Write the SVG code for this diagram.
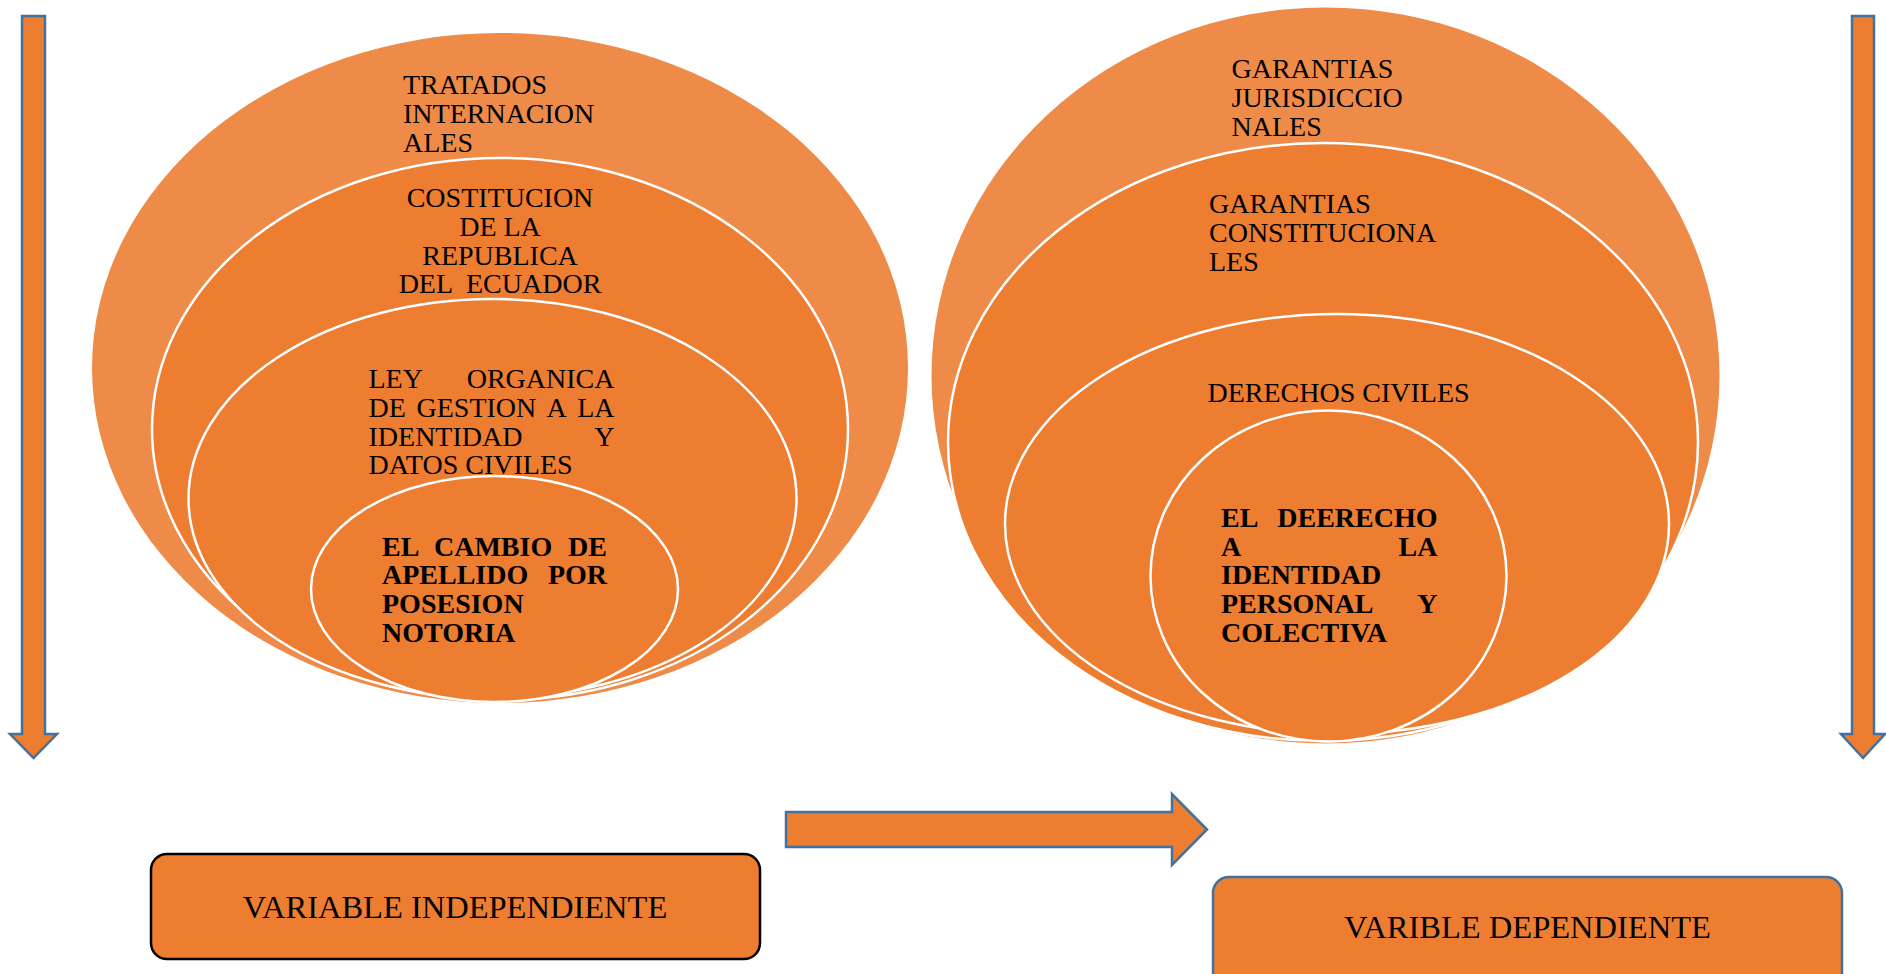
<svg xmlns="http://www.w3.org/2000/svg" width="1886" height="974" viewBox="0 0 1886 974">
<style>
.outer{fill:#EE8B48;stroke:none}
.ring{fill:#ED7D31;stroke:#FFFFFF;stroke-width:2.5}
.arrow{fill:#ED7D31;stroke:#41719C;stroke-width:2.5;stroke-linejoin:miter}
.t{font-family:"Liberation Serif","Times New Roman",serif;font-size:28px;fill:#000}
.b{font-weight:bold}
.lbl{font-family:"Liberation Serif","Times New Roman",serif;font-size:32.5px;fill:#000;text-anchor:middle}
</style>
<rect width="1886" height="974" fill="#FFFFFF"/>
<g id="connectors">
<polygon class="arrow" points="22,16 45,16 45,734 57,734 33.5,758 10,734 22,734"/>
<polygon class="arrow" points="1852,16 1874,16 1874,734 1885,734 1863,758 1841,734 1852,734"/>
<polygon class="arrow" points="786,812 1172,812 1172,794 1207,829.5 1172,865 1172,847 786,847"/>
</g>
<g id="left-nest">
<g id="n-tratados">
<ellipse class="outer" cx="500" cy="368" rx="408" ry="335"/>
<text class="t" x="403" y="94">TRATADOS</text>
<text class="t" x="403" y="123">INTERNACION</text>
<text class="t" x="403" y="151.5">ALES</text>
</g>
<g id="n-constitucion">
<ellipse class="ring" cx="500" cy="429" rx="348" ry="271"/>
<text class="t" x="500" y="206.5" text-anchor="middle">COSTITUCION</text>
<text class="t" x="500" y="235.5" text-anchor="middle">DE LA</text>
<text class="t" x="500" y="265" text-anchor="middle">REPUBLICA</text>
<text class="t" x="500" y="293" text-anchor="middle" xml:space="preserve">DEL  ECUADOR</text>
</g>
<g id="n-ley">
<ellipse class="ring" cx="492.5" cy="498.5" rx="304" ry="199.5"/>
<text class="t" x="368.5" y="388">LEY</text>
<text class="t" x="614.5" y="388" text-anchor="end">ORGANICA</text>
<text class="t" x="368.5" y="416.5">DE</text>
<text class="t" x="416.5" y="416.5">GESTION</text>
<text class="t" x="546.5" y="416.5">A</text>
<text class="t" x="614.5" y="416.5" text-anchor="end">LA</text>
<text class="t" x="368.5" y="445.5">IDENTIDAD</text>
<text class="t" x="614.5" y="445.5" text-anchor="end">Y</text>
<text class="t" x="368.5" y="474">DATOS CIVILES</text>
</g>
<g id="n-cambio">
<ellipse class="ring" cx="494.5" cy="589" rx="183.5" ry="113"/>
<text class="t b" x="382" y="555.5">EL</text>
<text class="t b" x="434" y="555.5">CAMBIO</text>
<text class="t b" x="607" y="555.5" text-anchor="end">DE</text>
<text class="t b" x="382" y="584">APELLIDO</text>
<text class="t b" x="607" y="584" text-anchor="end">POR</text>
<text class="t b" x="382" y="613">POSESION</text>
<text class="t b" x="382" y="641.5">NOTORIA</text>
</g>
</g>
<g id="right-nest">
<g id="n-jurisdiccionales">
<ellipse class="outer" cx="1325.5" cy="375.5" rx="394" ry="368"/>
<text class="t" x="1231.5" y="77.5">GARANTIAS</text>
<text class="t" x="1231.5" y="106.5">JURISDICCIO</text>
<text class="t" x="1231.5" y="135.5">NALES</text>
</g>
<g id="n-constitucionales">
<ellipse class="ring" cx="1323" cy="442" rx="375" ry="299"/>
<text class="t" x="1209" y="212.5">GARANTIAS</text>
<text class="t" x="1209" y="241.5">CONSTITUCIONA</text>
<text class="t" x="1209" y="270.5">LES</text>
</g>
<g id="n-derechos">
<ellipse class="ring" cx="1337" cy="524" rx="332" ry="210"/>
<text class="t" x="1207.5" y="401.5">DERECHOS CIVILES</text>
</g>
<g id="n-identidad">
<ellipse class="ring" cx="1328.5" cy="576" rx="178" ry="165.5"/>
<text class="t b" x="1221" y="527">EL</text>
<text class="t b" x="1437.5" y="527" text-anchor="end">DEERECHO</text>
<text class="t b" x="1221" y="555.5">A</text>
<text class="t b" x="1437.5" y="555.5" text-anchor="end">LA</text>
<text class="t b" x="1221" y="584">IDENTIDAD</text>
<text class="t b" x="1221" y="613">PERSONAL</text>
<text class="t b" x="1437.5" y="613" text-anchor="end">Y</text>
<text class="t b" x="1221" y="642">COLECTIVA</text>
</g>
</g>
<g id="n-independiente">
<rect x="151" y="854" width="609" height="105" rx="16" ry="16" fill="#ED7D31" stroke="#000000" stroke-width="2.5"/>
<text class="lbl" x="455" y="918">VARIABLE INDEPENDIENTE</text>
</g>
<g id="n-dependiente">
<rect x="1213" y="877" width="629" height="120" rx="16" ry="16" fill="#ED7D31" stroke="#41719C" stroke-width="2.5"/>
<text class="lbl" x="1527.5" y="937.5">VARIBLE DEPENDIENTE</text>
</g>
</svg>
